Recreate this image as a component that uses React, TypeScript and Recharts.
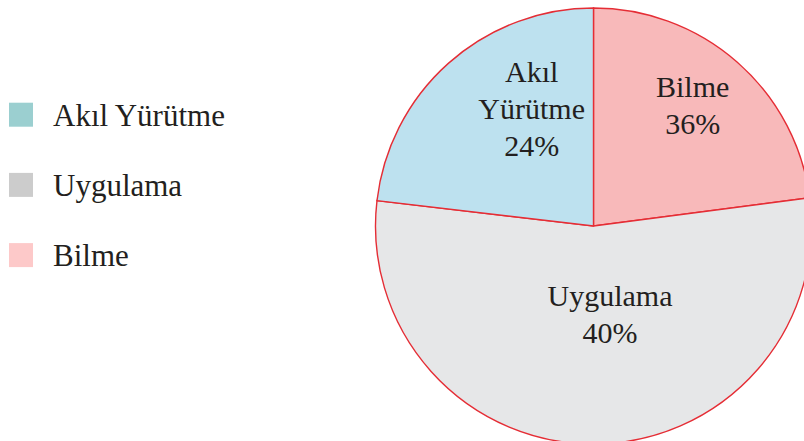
import React from "react";
import { PieChart, Pie, Cell, Legend } from "recharts";

// Categories in clockwise order from 12 o'clock
const categories = ["Bilme", "Uygulama", "Akıl Yürütme"];
// Slice sizes (percent of the circle)
const sliceValues = [22.93, 53.93, 23.14];
// Percent labels printed on the slices
const printedPercents = ["36%", "40%", "24%"];
// Label lines inside slices
const labelLines = [["Bilme"], ["Uygulama"], ["Akıl", "Yürütme"]];
// Legend order
const legendOrder = ["Akıl Yürütme", "Uygulama", "Bilme"];

const sliceColors = ["#f8b9ba", "#e6e7e8", "#bde1ef"];
const legendColors: Record<string, string> = {
  "Akıl Yürütme": "#9bcfd0",
  Uygulama: "#cccccc",
  Bilme: "#fdc9c9",
};
// label placement: [radius factor, angle offset in degrees]
const labelPlacement: [number, number][] = [
  [0.717, 1.9],
  [0.413, 10.2],
  [0.607, -13.8],
];

const data = categories.map((name, i) => ({
  name,
  value: sliceValues[i],
  pct: printedPercents[i],
}));

const FONT = "'Liberation Serif', 'Times New Roman', serif";
const TEXT = "#231f20";
const RAD = Math.PI / 180;

const renderLabel = (props: any) => {
  const { cx, cy, midAngle, outerRadius, index } = props;
  const [rf, off] = labelPlacement[index];
  const a = (midAngle + off) * RAD;
  const r = outerRadius * rf;
  const x = cx + r * Math.cos(a);
  const y = cy - r * Math.sin(a);
  const lines = [...labelLines[index], printedPercents[index]];
  const lh = 37;
  const first = y - ((lines.length - 1) * lh) / 2 + 10;
  return (
    <text
      x={x}
      y={first}
      textAnchor="middle"
      fill={TEXT}
      style={{ fontFamily: FONT, fontSize: 30 }}
    >
      {lines.map((l, k) => (
        <tspan key={k} x={x} y={first + k * lh}>
          {l}
        </tspan>
      ))}
    </text>
  );
};

const renderLegend = () => (
  <svg width={260} height={290} style={{ display: "block" }}>
    {legendOrder.map((name, i) => (
      <g key={name}>
        <rect x={9} y={102.7 + i * 70.2} width={24} height={24} fill={legendColors[name]} />
        <text
          x={53}
          y={125.5 + i * 70.2}
          fill={TEXT}
          style={{ fontFamily: FONT, fontSize: 31 }}
        >
          {name}
        </text>
      </g>
    ))}
  </svg>
);

export default function App() {
  return (
    <div style={{ position: "absolute", left: 0, top: 0, width: 804, height: 441, background: "#fff" }}>
      <PieChart width={804} height={441} margin={{ top: 0, right: 0, bottom: 0, left: 0 }}>
        <Legend
          content={renderLegend}
          wrapperStyle={{ position: "absolute", left: 0, top: 0, width: 260, height: 290 }}
          layout="vertical"
          verticalAlign="middle"
          align="center"
        />
        <Pie
          data={data}
          dataKey="value"
          nameKey="name"
          cx={593.5}
          cy={226}
          outerRadius={218}
          startAngle={90}
          endAngle={-270}
          stroke="#e52d35"
          strokeWidth={1.4}
          label={renderLabel}
          labelLine={false}
          isAnimationActive={false}
        >
          {data.map((d, i) => (
            <Cell key={d.name} fill={sliceColors[i]} />
          ))}
        </Pie>
      </PieChart>
    </div>
  );
}
